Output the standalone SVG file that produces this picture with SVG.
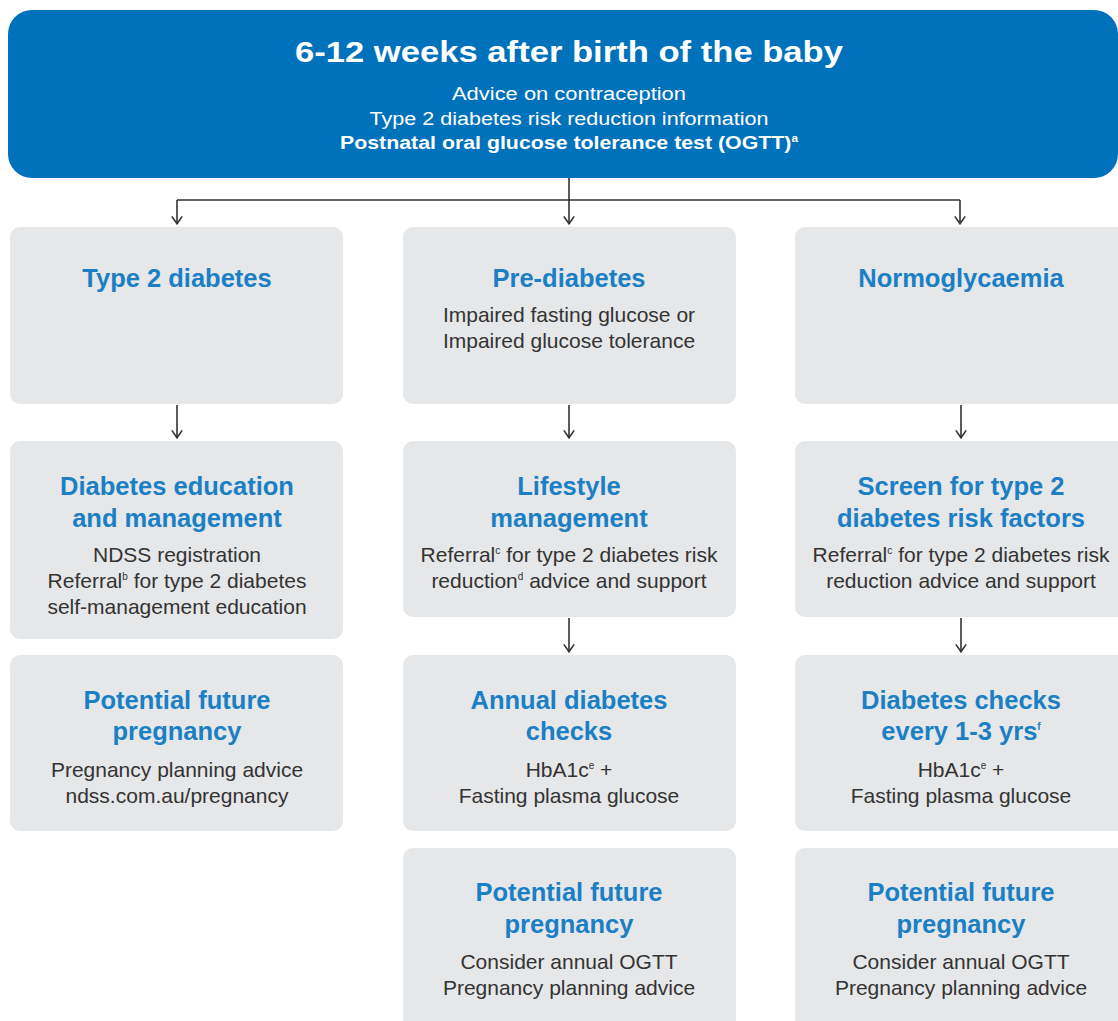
<svg xmlns="http://www.w3.org/2000/svg" width="1118" height="1021" viewBox="0 0 1118 1021">
<defs>
<marker id="arr" viewBox="0 0 10 12" refX="8.6" refY="6" markerWidth="10" markerHeight="12" markerUnits="userSpaceOnUse" orient="auto">
<path d="M1,0.8 L8.4,6 L1,11.2" fill="none" stroke="#333" stroke-width="1.6"/>
</marker>
<style>
.box{fill:#e6e7e8}
.hd{fill:#0072bc}
.t{font-family:"Liberation Sans",Arial,sans-serif;text-anchor:middle}
.ttl{font-size:25.5px;font-weight:bold;fill:#1a7fc4}
.body{font-size:21px;fill:#333}
.sup{font-size:10px}
.h1{font-size:30px;font-weight:bold;fill:#fff}
.h2{font-size:18px;fill:#fff}
.con{fill:none;stroke:#333;stroke-width:1.6}
</style>
</defs>
<rect width="1118" height="1021" fill="#fff"/>
<g id="header">
<rect class="hd" x="8" y="10" width="1110" height="168" rx="24"/>
<text class="t h1" x="569" y="62" textLength="548" lengthAdjust="spacingAndGlyphs">6-12 weeks after birth of the baby</text>
<text class="t h2" x="569" y="100" textLength="234" lengthAdjust="spacingAndGlyphs">Advice on contraception</text>
<text class="t h2" x="569" y="125" textLength="399" lengthAdjust="spacingAndGlyphs">Type 2 diabetes risk reduction information</text>
<text class="t h2" x="569" y="149" font-weight="bold" textLength="458" lengthAdjust="spacingAndGlyphs">Postnatal oral glucose tolerance test (OGTT)<tspan class="sup" dy="-7">a</tspan></text>
</g>
<g id="connectors">
<path class="con" d="M569,178 V200 M177,200 H960"/>
<path class="con" d="M177,200 V224" marker-end="url(#arr)"/>
<path class="con" d="M569,200 V224" marker-end="url(#arr)"/>
<path class="con" d="M960,200 V224" marker-end="url(#arr)"/>
<path class="con" d="M177,405 V438" marker-end="url(#arr)"/>
<path class="con" d="M569,405 V438" marker-end="url(#arr)"/>
<path class="con" d="M961,405 V438" marker-end="url(#arr)"/>
<path class="con" d="M569,618 V652" marker-end="url(#arr)"/>
<path class="con" d="M961,618 V652" marker-end="url(#arr)"/>
</g>
<g id="type2">
<rect class="box" x="10" y="227" width="333" height="177" rx="10"/>
<text class="t ttl" x="177" y="287">Type 2 diabetes</text>
</g>
<g id="prediabetes">
<rect class="box" x="403" y="227" width="333" height="177" rx="10"/>
<text class="t ttl" x="569" y="287">Pre-diabetes</text>
<text class="t body" x="569" y="322">Impaired fasting glucose or</text>
<text class="t body" x="569" y="348">Impaired glucose tolerance</text>
</g>
<g id="normo">
<rect class="box" x="795" y="227" width="340" height="177" rx="10"/>
<text class="t ttl" x="961" y="287">Normoglycaemia</text>
</g>
<g id="education">
<rect class="box" x="10" y="441" width="333" height="198" rx="10"/>
<text class="t ttl" x="177" y="495">Diabetes education</text>
<text class="t ttl" x="177" y="527">and management</text>
<text class="t body" x="177" y="562">NDSS registration</text>
<text class="t body" x="177" y="588">Referral<tspan class="sup" dy="-8">b</tspan><tspan dy="8"> for type 2 diabetes</tspan></text>
<text class="t body" x="177" y="614">self-management education</text>
</g>
<g id="lifestyle">
<rect class="box" x="403" y="441" width="333" height="176" rx="10"/>
<text class="t ttl" x="569" y="495">Lifestyle</text>
<text class="t ttl" x="569" y="527">management</text>
<text class="t body" x="569" y="562">Referral<tspan class="sup" dy="-8">c</tspan><tspan dy="8"> for type 2 diabetes risk</tspan></text>
<text class="t body" x="569" y="588">reduction<tspan class="sup" dy="-8">d</tspan><tspan dy="8"> advice and support</tspan></text>
</g>
<g id="screen">
<rect class="box" x="795" y="441" width="340" height="176" rx="10"/>
<text class="t ttl" x="961" y="495">Screen for type 2</text>
<text class="t ttl" x="961" y="527">diabetes risk factors</text>
<text class="t body" x="961" y="562">Referral<tspan class="sup" dy="-8">c</tspan><tspan dy="8"> for type 2 diabetes risk</tspan></text>
<text class="t body" x="961" y="588">reduction advice and support</text>
</g>
<g id="future1">
<rect class="box" x="10" y="655" width="333" height="176" rx="10"/>
<text class="t ttl" x="177" y="709">Potential future</text>
<text class="t ttl" x="177" y="740">pregnancy</text>
<text class="t body" x="177" y="777">Pregnancy planning advice</text>
<text class="t body" x="177" y="803">ndss.com.au/pregnancy</text>
</g>
<g id="annual">
<rect class="box" x="403" y="655" width="333" height="176" rx="10"/>
<text class="t ttl" x="569" y="709">Annual diabetes</text>
<text class="t ttl" x="569" y="740">checks</text>
<text class="t body" x="569" y="777">HbA1c<tspan class="sup" dy="-8">e</tspan><tspan dy="8"> +</tspan></text>
<text class="t body" x="569" y="803">Fasting plasma glucose</text>
</g>
<g id="checks">
<rect class="box" x="795" y="655" width="340" height="176" rx="10"/>
<text class="t ttl" x="961" y="709">Diabetes checks</text>
<text class="t ttl" x="961" y="740">every 1-3 yrs<tspan class="sup" dy="-10">f</tspan></text>
<text class="t body" x="961" y="777">HbA1c<tspan class="sup" dy="-8">e</tspan><tspan dy="8"> +</tspan></text>
<text class="t body" x="961" y="803">Fasting plasma glucose</text>
</g>
<g id="future2">
<rect class="box" x="403" y="848" width="333" height="190" rx="10"/>
<text class="t ttl" x="569" y="901">Potential future</text>
<text class="t ttl" x="569" y="933">pregnancy</text>
<text class="t body" x="569" y="969">Consider annual OGTT</text>
<text class="t body" x="569" y="995">Pregnancy planning advice</text>
</g>
<g id="future3">
<rect class="box" x="795" y="848" width="340" height="190" rx="10"/>
<text class="t ttl" x="961" y="901">Potential future</text>
<text class="t ttl" x="961" y="933">pregnancy</text>
<text class="t body" x="961" y="969">Consider annual OGTT</text>
<text class="t body" x="961" y="995">Pregnancy planning advice</text>
</g>
</svg>
